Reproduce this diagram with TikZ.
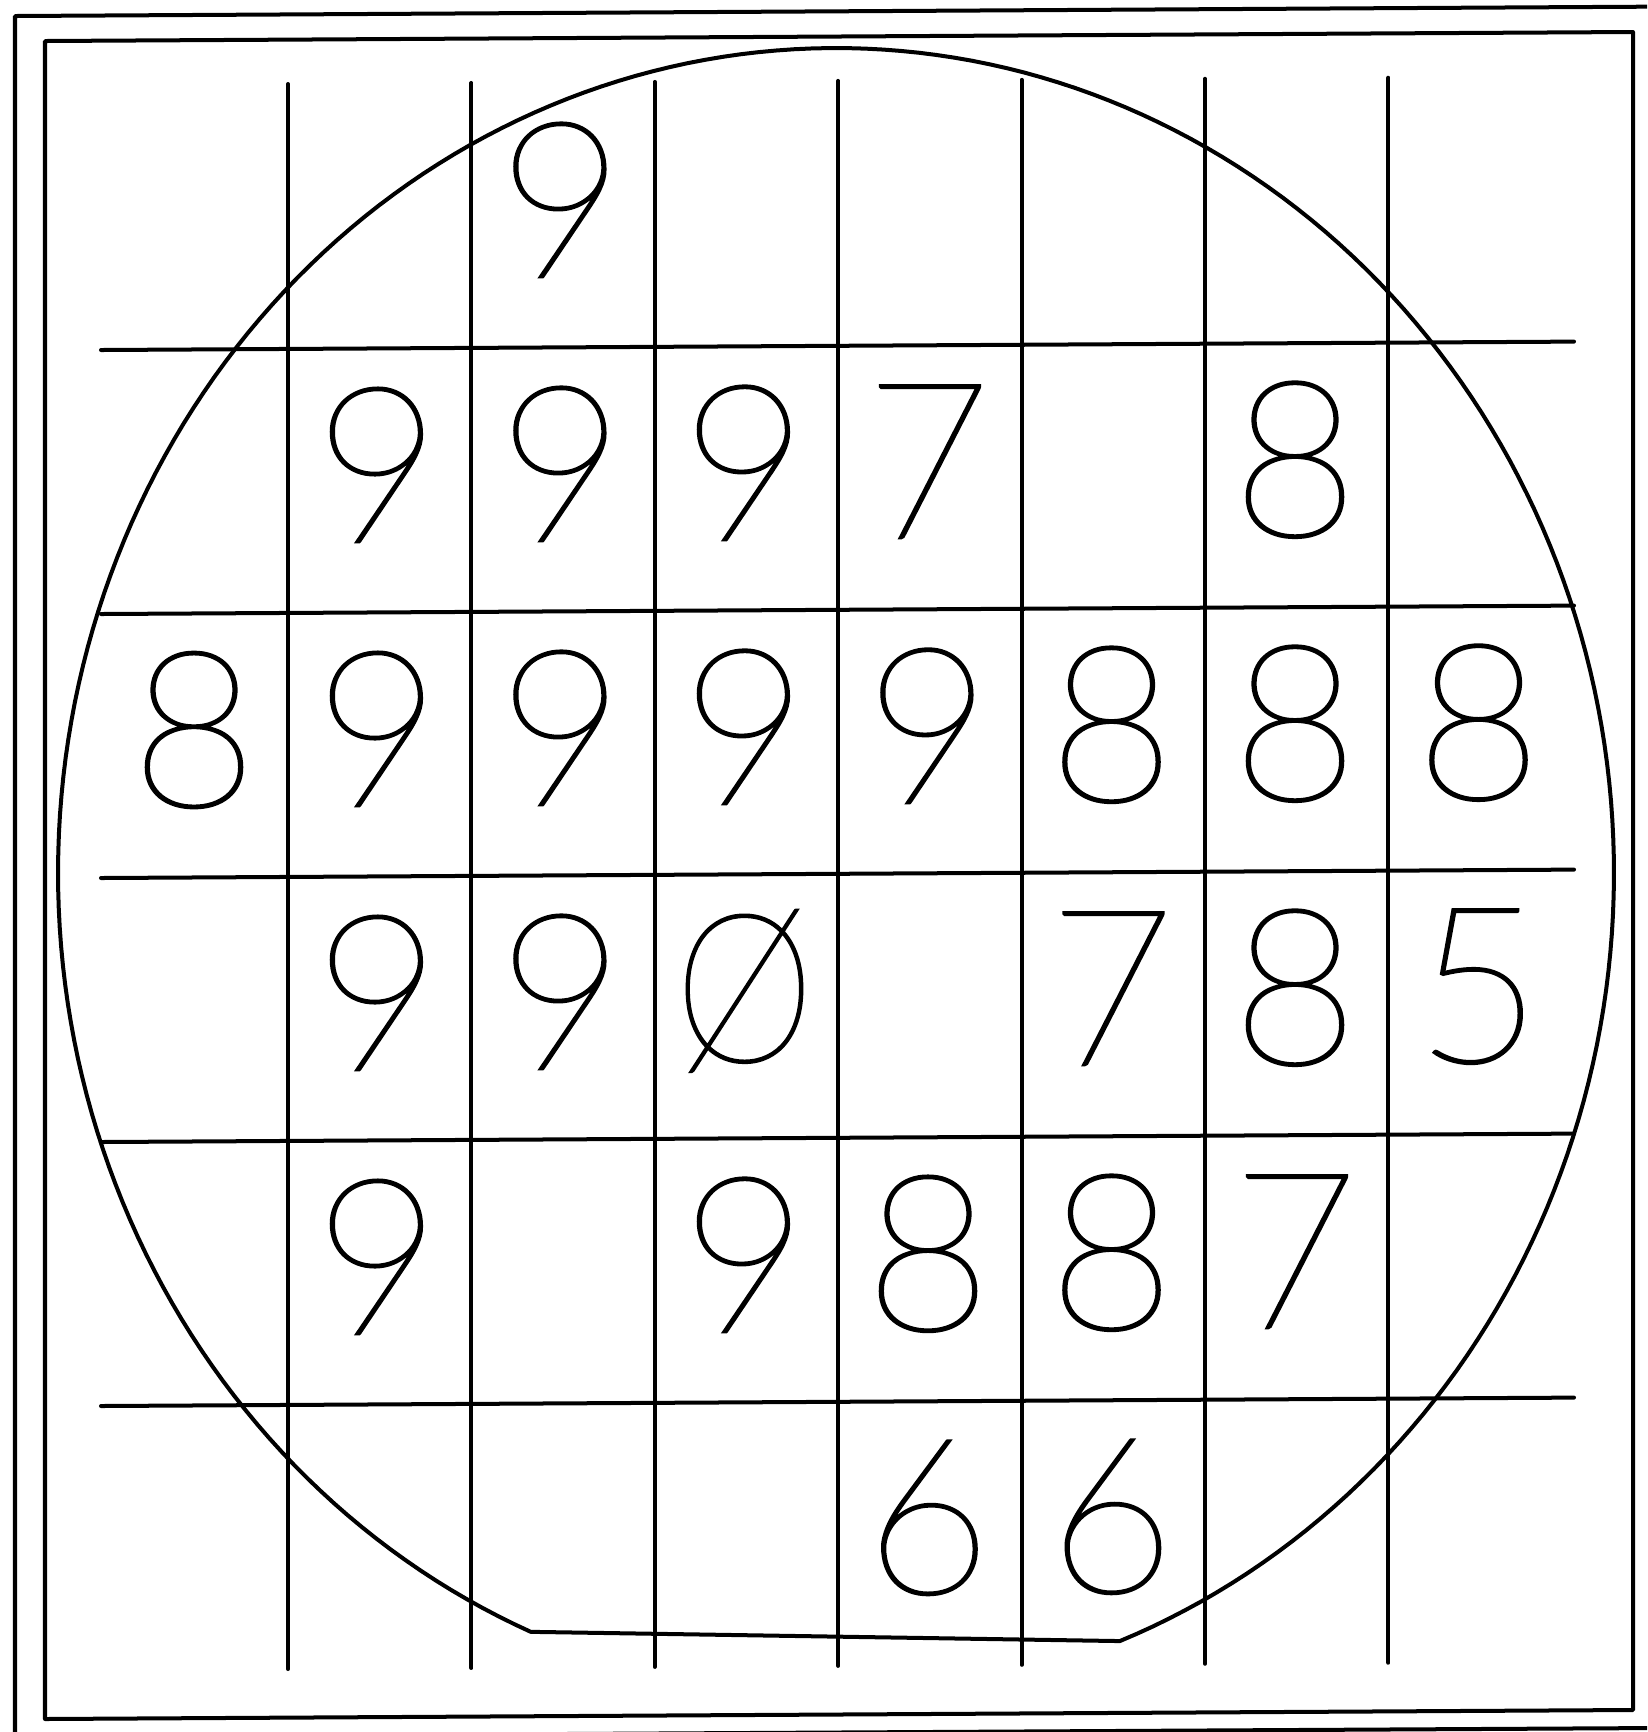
\documentclass[tikz,border=0pt]{standalone}
\usepackage{fontspec}
\IfFontExistsTF{Lato Thin}
  {\newfontfamily\digitfont[FakeBold=1.2]{Lato Thin}}
  {\IfFontExistsTF{Lato Hairline}
     {\newfontfamily\digitfont[FakeBold=2]{Lato Hairline}}
     {\newfontfamily\digitfont{DejaVu Sans}}}
\tikzset{
  frame/.style={line width=0.4mm, line join=round, line cap=round},
  digit/.style={font=\digitfont\fontsize{62}{62}\selectfont, inner sep=0pt, anchor=center},
}
\begin{document}
\begin{tikzpicture}[x=0.01cm, y=-0.01cm]
\useasboundingbox (0,0) rectangle (1647,1732);
\clip (0,0) rectangle (1647,1732);
\fill[white] (0,0) rectangle (1647,1732);
% outer frame (runs off the right and bottom edges)
\draw[frame] (1660,1728) -- (15,1737) -- (15,16) -- (1660,6.6);
% inner frame
\draw[frame] (45,41) -- (1633,32) -- (1633,1710) -- (45,1719) -- cycle;
% wafer outline with flat
\draw[frame] plot[domain=-246.9:68.6, samples=241, variable=\t]
  ({836+778*cos(\t)},{873+825*sin(\t)}) -- cycle;
% grid: vertical lines
\foreach \i in {0,...,6} {
  \pgfmathsetmacro\xx{288+183.4*\i}
  \draw[frame] (\xx,{84-0.0057*(\xx-288)}) -- (\xx,{1669-0.0057*(\xx-288)});
}
% grid: horizontal lines
\foreach \k in {0,...,4} {
  \pgfmathsetmacro\yy{350+264*\k}
  \draw[frame] (101,\yy) -- (1574,{\yy-8.4});
}
% digits
\foreach \r/\c/\t in {0/2/9,
  1/1/9, 1/2/9, 1/3/9, 1/4/7, 1/6/8,
  2/0/8, 2/1/9, 2/2/9, 2/3/9, 2/4/9, 2/5/8, 2/6/8, 2/7/8,
  3/1/9, 3/2/9, 3/3/{\scalebox{0.82}[0.95]{Ø}}, 3/5/7, 3/6/8, 3/7/5,
  4/1/9, 4/3/9, 4/4/8, 4/5/8, 4/6/7,
  5/4/6, 5/5/6} {
  \pgfmathsetmacro\xx{194+183.5*\c}
  \pgfmathsetmacro\yy{202+264*\r-0.0057*(\xx-194)}
  \node[digit] (d\r\c) at (\xx,\yy) {\t};
}
\end{tikzpicture}
\end{document}
